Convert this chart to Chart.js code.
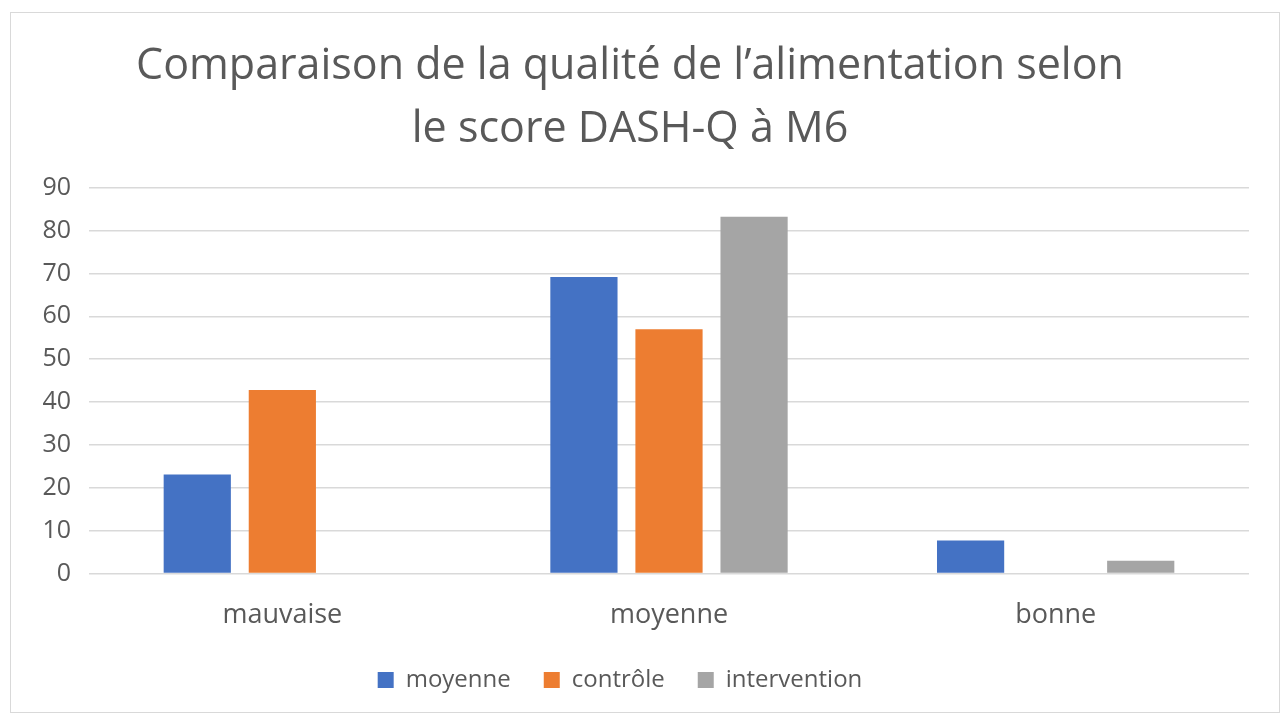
<!DOCTYPE html>
<html>
<head>
<meta charset="utf-8">
<script src="https://cdn.jsdelivr.net/npm/chart.js@4"></script>
<style>
  body { margin: 0; background: #fff; }
  #box {
    position: absolute; left: 10px; top: 12px;
    width: 1268px; height: 699px;
    border: 1px solid #d9d9d9;
  }
</style>
</head>
<body>
<div id="box"><canvas id="chart"></canvas></div>
<script>
// données
const categories = ['mauvaise', 'moyenne', 'bonne'];
const moyenne = [23.1, 69.2, 7.7];
const controle = [42.8, 57.0, 0];
const intervention = [0, 83.2, 3.0];
const titleLines = ['Comparaison de la qualité de l\u2019alimentation selon', 'le score DASH-Q à M6'];

const grey = '#595959';
const font = '"Open Sans", sans-serif';

// décale un peu la légende vers la gauche, comme dans Excel
const legendShift = {
  id: 'legendShift',
  afterLayout(chart) {
    chart.legend.left -= 10;
    chart.legend.right -= 10;
  }
};

const ctx = document.getElementById('chart');
new Chart(ctx, {
  type: 'bar',
  data: {
    labels: categories,
    datasets: [
      { label: 'moyenne', data: moyenne, backgroundColor: '#4472c4' },
      { label: 'contrôle', data: controle, backgroundColor: '#ed7d31' },
      { label: 'intervention', data: intervention, backgroundColor: '#a5a5a5' }
    ]
  },
  plugins: [legendShift],
  options: {
    responsive: true,
    maintainAspectRatio: false,
    animation: false,
    categoryPercentage: 0.66,
    barPercentage: 0.79,
    layout: { padding: { left: 0, right: 30, top: 0, bottom: 10 } },
    scales: {
      x: {
        grid: { display: false },
        border: { display: false },
        ticks: { color: grey, font: { family: font, size: 27 }, padding: 18 },
        afterFit: (axis) => { axis.height -= 15; }
      },
      y: {
        min: 0,
        max: 90,
        ticks: { stepSize: 10, color: grey, font: { family: font, size: 25 }, padding: 18 },
        grid: { color: '#d9d9d9', lineWidth: 1.5, drawTicks: false },
        border: { display: false },
        afterFit: (axis) => { axis.width = 78; }
      }
    },
    plugins: {
      title: {
        display: true,
        text: titleLines,
        color: grey,
        font: { family: font, size: 43, weight: 'normal', lineHeight: 1.45 },
        padding: { top: 23, bottom: 27 }
      },
      legend: {
        position: 'bottom',
        labels: {
          color: grey,
          font: { family: font, size: 24 },
          boxWidth: 16,
          boxHeight: 16,
          padding: 33
        }
      },
      tooltip: { enabled: false }
    }
  }
});
</script>
</body>
</html>
